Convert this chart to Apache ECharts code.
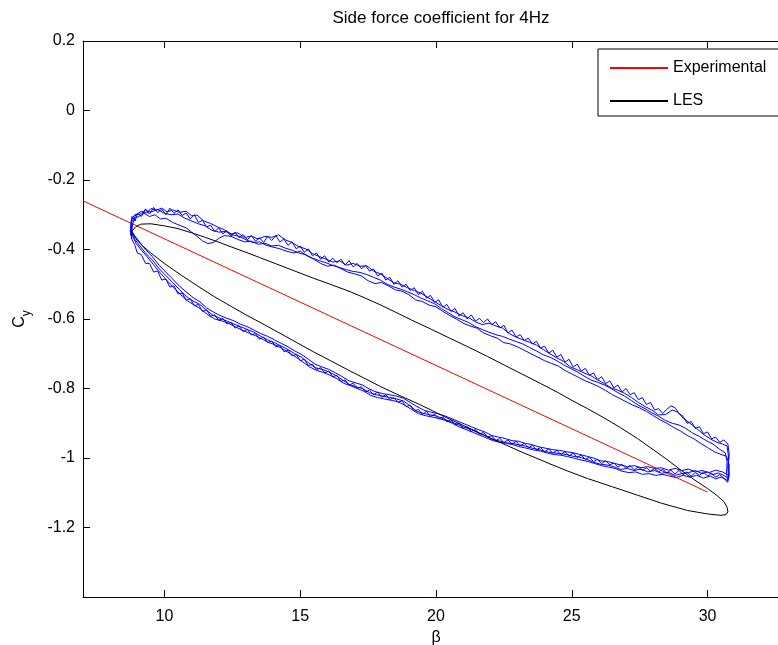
<!DOCTYPE html>
<html><head><meta charset="utf-8">
<script src="https://cdn.jsdelivr.net/npm/echarts@6/dist/echarts.min.js"></script>
<style>html,body{margin:0;padding:0;background:#fff}#c{width:778px;height:645px}</style>
</head><body><div id="c"></div>
<script>
const xTicks = [10, 15, 20, 25, 30];
const yTicks = [0.2, 0, -0.2, -0.4, -0.6, -0.8, -1, -1.2];

const experimental = [[7, -0.26], [30, -1.098]];

const les = [[8.79,-0.348],[8.95,-0.334],[9.13,-0.327],[9.5,-0.326],[10.0,-0.332],[10.5,-0.34],[11.0,-0.352],[11.5,-0.365],[12.0,-0.379],[12.44,-0.392],[13.0,-0.408],[13.5,-0.423],[14.0,-0.438],[14.5,-0.453],[15.0,-0.468],[15.5,-0.483],[16.14,-0.501],[16.86,-0.522],[17.4,-0.54],[17.97,-0.56],[18.5,-0.58],[19.1,-0.603],[19.81,-0.629],[20.5,-0.655],[21.2,-0.681],[21.9,-0.708],[22.5,-0.732],[23.13,-0.757],[23.86,-0.786],[24.5,-0.812],[25.0,-0.834],[25.58,-0.858],[26.2,-0.885],[26.8,-0.913],[27.42,-0.944],[28.0,-0.976],[28.5,-1.004],[29.02,-1.035],[29.5,-1.062],[30.0,-1.088],[30.35,-1.108],[30.61,-1.126],[30.72,-1.142],[30.75,-1.155],[30.68,-1.163],[30.49,-1.165],[30.0,-1.161],[29.26,-1.151],[28.3,-1.13],[27.42,-1.107],[26.5,-1.083],[25.58,-1.059],[24.8,-1.036],[24.2,-1.017],[23.13,-0.982],[22.5,-0.96],[21.8,-0.935],[21.0,-0.906],[20.2,-0.877],[19.4,-0.846],[18.6,-0.818],[17.97,-0.795],[17.4,-0.772],[16.87,-0.751],[16.14,-0.721],[15.5,-0.695],[14.9,-0.669],[14.3,-0.643],[13.67,-0.616],[13.0,-0.588],[12.44,-0.563],[11.8,-0.534],[11.22,-0.505],[10.6,-0.473],[9.99,-0.44],[9.5,-0.41],[9.2,-0.39],[9.01,-0.375],[8.88,-0.36],[8.79,-0.348]];

const measuredCycle1 = [[8.75,-0.36],[8.80,-0.32],[8.95,-0.30],[9.15,-0.29],[9.35,-0.295],[9.5,-0.282],[9.7,-0.287],[9.9,-0.281],[10.1,-0.292],[10.3,-0.286],[10.55,-0.293],[10.8,-0.29],[11.0,-0.303],[11.2,-0.301],[11.45,-0.318],[11.7,-0.325],[11.95,-0.335],[12.2,-0.343],[12.45,-0.355],[12.7,-0.352],[12.95,-0.366],[13.2,-0.361],[13.45,-0.37],[13.7,-0.362],[13.95,-0.365],[14.2,-0.358],[14.45,-0.372],[14.7,-0.38],[14.95,-0.392],[15.2,-0.398],[15.45,-0.412],[15.7,-0.42],[15.95,-0.428],[16.2,-0.436],[16.45,-0.433],[16.7,-0.445],[16.95,-0.44],[17.2,-0.448],[17.45,-0.447],[17.7,-0.462],[17.95,-0.47],[18.2,-0.483],[18.45,-0.496],[18.7,-0.5],[18.95,-0.51],[19.2,-0.518],[19.45,-0.526],[19.7,-0.538],[19.95,-0.55],[20.2,-0.562],[20.45,-0.573],[20.7,-0.58],[20.95,-0.59],[21.2,-0.596],[21.45,-0.608],[21.7,-0.616],[21.95,-0.612],[22.2,-0.62],[22.45,-0.626],[22.7,-0.642],[22.95,-0.652],[23.2,-0.66],[23.45,-0.667],[23.7,-0.675],[23.95,-0.688],[24.2,-0.7],[24.45,-0.712],[24.7,-0.722],[24.95,-0.738],[25.2,-0.746],[25.45,-0.755],[25.7,-0.763],[25.95,-0.775],[26.2,-0.786],[26.45,-0.798],[26.7,-0.805],[26.95,-0.814],[27.2,-0.826],[27.45,-0.84],[27.7,-0.852],[27.95,-0.862],[28.2,-0.876],[28.45,-0.875],[28.7,-0.862],[28.9,-0.868],[29.1,-0.885],[29.35,-0.9],[29.6,-0.915],[29.85,-0.932],[30.1,-0.945],[30.35,-0.955],[30.55,-0.96],[30.72,-0.965],[30.78,-1.0],[30.75,-1.03],[30.78,-1.06],
[30.6,-1.05],[30.4,-1.043],[30.2,-1.048],[30.0,-1.04],[29.8,-1.045],[29.55,-1.036],[29.3,-1.042],[29.05,-1.045],[28.8,-1.05],[28.55,-1.041],[28.3,-1.044],[28.05,-1.036],[27.8,-1.04],[27.55,-1.032],[27.3,-1.036],[27.05,-1.03],[26.8,-1.033],[26.55,-1.025],[26.3,-1.02],[26.05,-1.018],[25.8,-1.012],[25.55,-1.004],[25.3,-0.998],[25.05,-0.995],[24.8,-0.99],[24.55,-0.987],[24.3,-0.985],[24.05,-0.982],[23.8,-0.976],[23.55,-0.972],[23.3,-0.966],[23.05,-0.962],[22.8,-0.958],[22.55,-0.956],[22.3,-0.95],[22.05,-0.946],[21.8,-0.935],[21.55,-0.928],[21.3,-0.918],[21.05,-0.912],[20.8,-0.903],[20.55,-0.896],[20.3,-0.888],[20.05,-0.88],[19.8,-0.876],[19.55,-0.872],[19.3,-0.866],[19.05,-0.85],[18.8,-0.836],[18.55,-0.83],[18.3,-0.826],[18.05,-0.822],[17.8,-0.818],[17.55,-0.812],[17.3,-0.8],[17.05,-0.795],[16.8,-0.788],[16.55,-0.775],[16.3,-0.762],[16.05,-0.752],[15.8,-0.745],[15.55,-0.74],[15.3,-0.726],[15.05,-0.71],[14.8,-0.7],[14.55,-0.688],[14.3,-0.678],[14.05,-0.668],[13.8,-0.66],[13.55,-0.65],[13.3,-0.638],[13.05,-0.63],[12.8,-0.622],[12.55,-0.614],[12.3,-0.606],[12.05,-0.598],[11.8,-0.59],[11.55,-0.575],[11.3,-0.558],[11.05,-0.548],[10.8,-0.535],[10.55,-0.515],[10.3,-0.495],[10.05,-0.475],[9.8,-0.455],[9.55,-0.43],[9.3,-0.41],[9.1,-0.39],[8.9,-0.37],[8.8,-0.35]];

const measuredCycle2 = [[8.78,-0.37],[8.82,-0.33],[8.9,-0.31],[9.05,-0.305],[9.25,-0.296],[9.45,-0.305],[9.65,-0.3],[9.85,-0.312],[10.05,-0.31],[10.3,-0.322],[10.55,-0.33],[10.8,-0.338],[11.0,-0.35],[11.2,-0.362],[11.4,-0.375],[11.6,-0.383],[11.8,-0.38],[12.0,-0.368],[12.2,-0.36],[12.45,-0.362],[12.7,-0.371],[12.95,-0.378],[13.2,-0.376],[13.45,-0.385],[13.7,-0.382],[13.95,-0.39],[14.2,-0.388],[14.45,-0.396],[14.7,-0.402],[14.95,-0.41],[15.2,-0.415],[15.45,-0.425],[15.7,-0.432],[15.95,-0.438],[16.2,-0.446],[16.45,-0.452],[16.7,-0.458],[16.95,-0.463],[17.2,-0.466],[17.45,-0.472],[17.7,-0.48],[17.95,-0.488],[18.2,-0.5],[18.45,-0.508],[18.7,-0.514],[18.95,-0.522],[19.2,-0.53],[19.45,-0.54],[19.7,-0.548],[19.95,-0.556],[20.2,-0.57],[20.45,-0.582],[20.7,-0.594],[20.95,-0.602],[21.2,-0.61],[21.45,-0.622],[21.7,-0.63],[21.95,-0.638],[22.2,-0.645],[22.45,-0.65],[22.7,-0.658],[22.95,-0.665],[23.2,-0.672],[23.45,-0.682],[23.7,-0.692],[23.95,-0.703],[24.2,-0.71],[24.45,-0.72],[24.7,-0.732],[24.95,-0.742],[25.2,-0.752],[25.45,-0.764],[25.7,-0.775],[25.95,-0.782],[26.2,-0.79],[26.45,-0.8],[26.7,-0.812],[26.95,-0.822],[27.2,-0.835],[27.45,-0.848],[27.7,-0.858],[27.95,-0.87],[28.2,-0.88],[28.45,-0.892],[28.7,-0.9],[28.95,-0.905],[29.2,-0.915],[29.45,-0.928],[29.7,-0.938],[29.95,-0.95],[30.2,-0.96],[30.45,-0.975],[30.65,-0.985],[30.72,-1.01],[30.7,-1.045],[30.75,-1.065],
[30.5,-1.055],[30.3,-1.06],[30.1,-1.052],[29.85,-1.058],[29.6,-1.05],[29.35,-1.055],[29.1,-1.05],[28.85,-1.056],[28.6,-1.052],[28.35,-1.047],[28.1,-1.05],[27.85,-1.045],[27.6,-1.047],[27.35,-1.04],[27.1,-1.042],[26.85,-1.038],[26.6,-1.03],[26.35,-1.026],[26.1,-1.022],[25.85,-1.016],[25.6,-1.01],[25.35,-1.006],[25.1,-1.001],[24.85,-0.996],[24.6,-0.992],[24.35,-0.99],[24.1,-0.986],[23.85,-0.98],[23.6,-0.977],[23.35,-0.972],[23.1,-0.968],[22.85,-0.962],[22.6,-0.958],[22.35,-0.955],[22.1,-0.95],[21.85,-0.942],[21.6,-0.934],[21.35,-0.926],[21.1,-0.918],[20.85,-0.91],[20.6,-0.9],[20.35,-0.892],[20.1,-0.886],[19.85,-0.882],[19.6,-0.878],[19.35,-0.872],[19.1,-0.86],[18.85,-0.848],[18.6,-0.838],[18.35,-0.834],[18.1,-0.83],[17.85,-0.826],[17.6,-0.82],[17.35,-0.808],[17.1,-0.8],[16.85,-0.792],[16.6,-0.785],[16.35,-0.772],[16.1,-0.762],[15.85,-0.754],[15.6,-0.748],[15.35,-0.738],[15.1,-0.724],[14.85,-0.71],[14.6,-0.698],[14.35,-0.686],[14.1,-0.675],[13.85,-0.668],[13.6,-0.658],[13.35,-0.648],[13.1,-0.64],[12.85,-0.632],[12.6,-0.622],[12.35,-0.612],[12.1,-0.605],[11.85,-0.6],[11.6,-0.588],[11.35,-0.572],[11.1,-0.56],[10.85,-0.548],[10.6,-0.53],[10.35,-0.51],[10.1,-0.49],[9.85,-0.468],[9.6,-0.444],[9.35,-0.42],[9.15,-0.402],[8.95,-0.382],[8.82,-0.36],[8.76,-0.345]];

const measuredCycle3 = [[8.74,-0.35],[8.78,-0.315],[8.9,-0.3],[9.1,-0.298],[9.3,-0.288],[9.5,-0.292],[9.75,-0.285],[10.0,-0.296],[10.25,-0.3],[10.5,-0.298],[10.75,-0.31],[11.0,-0.318],[11.25,-0.326],[11.5,-0.332],[11.75,-0.345],[12.0,-0.35],[12.25,-0.348],[12.5,-0.358],[12.75,-0.362],[13.0,-0.372],[13.25,-0.38],[13.5,-0.378],[13.75,-0.388],[14.0,-0.393],[14.25,-0.398],[14.5,-0.405],[14.75,-0.41],[15.0,-0.405],[15.25,-0.418],[15.5,-0.428],[15.75,-0.44],[16.0,-0.448],[16.25,-0.445],[16.5,-0.455],[16.75,-0.465],[17.0,-0.47],[17.25,-0.476],[17.5,-0.49],[17.75,-0.498],[18.0,-0.495],[18.25,-0.505],[18.5,-0.516],[18.75,-0.52],[19.0,-0.53],[19.25,-0.545],[19.5,-0.55],[19.75,-0.56],[20.0,-0.565],[20.25,-0.578],[20.5,-0.59],[20.75,-0.6],[21.0,-0.612],[21.25,-0.62],[21.5,-0.626],[21.75,-0.64],[22.0,-0.648],[22.25,-0.655],[22.5,-0.668],[22.75,-0.672],[23.0,-0.68],[23.25,-0.69],[23.5,-0.7],[23.75,-0.71],[24.0,-0.72],[24.25,-0.728],[24.5,-0.735],[24.75,-0.748],[25.0,-0.758],[25.25,-0.768],[25.5,-0.778],[25.75,-0.786],[26.0,-0.795],[26.25,-0.806],[26.5,-0.818],[26.75,-0.828],[27.0,-0.838],[27.25,-0.848],[27.5,-0.856],[27.75,-0.866],[28.0,-0.878],[28.25,-0.89],[28.5,-0.9],[28.75,-0.912],[29.0,-0.922],[29.25,-0.935],[29.5,-0.945],[29.75,-0.958],[30.0,-0.97],[30.25,-0.982],[30.5,-0.99],[30.7,-0.995],[30.8,-1.02],[30.78,-1.05],
[30.55,-1.04],[30.3,-1.035],[30.05,-1.042],[29.8,-1.036],[29.55,-1.04],[29.3,-1.032],[29.05,-1.036],[28.8,-1.03],[28.55,-1.035],[28.3,-1.028],[28.05,-1.03],[27.8,-1.025],[27.55,-1.028],[27.3,-1.022],[27.05,-1.025],[26.8,-1.02],[26.55,-1.015],[26.3,-1.01],[26.05,-1.008],[25.8,-1.0],[25.55,-0.995],[25.3,-0.99],[25.05,-0.985],[24.8,-0.982],[24.55,-0.978],[24.3,-0.976],[24.05,-0.972],[23.8,-0.968],[23.55,-0.962],[23.3,-0.958],[23.05,-0.952],[22.8,-0.95],[22.55,-0.944],[22.3,-0.94],[22.05,-0.935],[21.8,-0.925],[21.55,-0.918],[21.3,-0.91],[21.05,-0.902],[20.8,-0.894],[20.55,-0.886],[20.3,-0.878],[20.05,-0.872],[19.8,-0.868],[19.55,-0.862],[19.3,-0.852],[19.05,-0.84],[18.8,-0.828],[18.55,-0.822],[18.3,-0.818],[18.05,-0.815],[17.8,-0.81],[17.55,-0.802],[17.3,-0.79],[17.05,-0.784],[16.8,-0.778],[16.55,-0.766],[16.3,-0.755],[16.05,-0.745],[15.8,-0.738],[15.55,-0.73],[15.3,-0.716],[15.05,-0.702],[14.8,-0.692],[14.55,-0.68],[14.3,-0.67],[14.05,-0.66],[13.8,-0.65],[13.55,-0.642],[13.3,-0.632],[13.05,-0.622],[12.8,-0.615],[12.55,-0.605],[12.3,-0.598],[12.05,-0.59],[11.8,-0.58],[11.55,-0.568],[11.3,-0.55],[11.05,-0.538],[10.8,-0.522],[10.55,-0.505],[10.3,-0.485],[10.05,-0.465],[9.8,-0.445],[9.55,-0.42],[9.3,-0.4],[9.1,-0.38],[8.9,-0.36],[8.78,-0.345]];

const measuredCycle4 = [[8.76,-0.34],[8.8,-0.305],[8.92,-0.318],[9.0,-0.296],[9.15,-0.305],[9.3,-0.283],[9.45,-0.298],[9.6,-0.279],[9.75,-0.294],[9.9,-0.284],[10.05,-0.3],[10.2,-0.281],[10.35,-0.296],[10.5,-0.286],[10.65,-0.302],[10.8,-0.295],[10.95,-0.312],[11.1,-0.3],[11.25,-0.322],[11.4,-0.316],[11.55,-0.335],[11.7,-0.33],[11.85,-0.348],[12.0,-0.338],[12.15,-0.355],[12.3,-0.346],[12.45,-0.362],[12.6,-0.35],[12.75,-0.366],[12.9,-0.357],[13.05,-0.372],[13.2,-0.36],[13.35,-0.376],[13.5,-0.366],[13.65,-0.38],[13.8,-0.362],[13.95,-0.374],[14.1,-0.36],[14.25,-0.378],[14.4,-0.37],[14.55,-0.388],[14.7,-0.378],[14.85,-0.398],[15.0,-0.39],[15.15,-0.408],[15.3,-0.398],[15.45,-0.418],[15.6,-0.41],[15.75,-0.428],[15.9,-0.418],[16.05,-0.436],[16.2,-0.425],[16.35,-0.438],[16.5,-0.428],[16.65,-0.445],[16.8,-0.432],[16.95,-0.45],[17.1,-0.44],[17.25,-0.455],[17.4,-0.446],[17.55,-0.462],[17.7,-0.456],[17.85,-0.476],[18.0,-0.468],[18.15,-0.488],[18.3,-0.48],[18.45,-0.5],[18.6,-0.49],[18.75,-0.508],[18.9,-0.5],[19.05,-0.518],[19.2,-0.51],[19.35,-0.53],[19.5,-0.52],[19.65,-0.54],[19.8,-0.532],[19.95,-0.552],[20.1,-0.545],[20.25,-0.566],[20.4,-0.558],[20.55,-0.578],[20.7,-0.57],[20.85,-0.592],[21.0,-0.582],[21.15,-0.6],[21.3,-0.588],[21.45,-0.606],[21.6,-0.598],[21.75,-0.61],[21.9,-0.6],[22.05,-0.616],[22.2,-0.608],[22.35,-0.626],[22.5,-0.618],[22.65,-0.64],[22.8,-0.632],[22.95,-0.652],[23.1,-0.645],[23.25,-0.662],[23.4,-0.655],[23.55,-0.672],[23.7,-0.664],[23.85,-0.684],[24.0,-0.678],[24.15,-0.698],[24.3,-0.69],[24.45,-0.71],[24.6,-0.702],[24.75,-0.724],[24.9,-0.716],[25.05,-0.738],[25.2,-0.73],[25.35,-0.75],[25.5,-0.742],[25.65,-0.762],[25.8,-0.755],[25.95,-0.775],[26.1,-0.766],[26.25,-0.786],[26.4,-0.778],[26.55,-0.798],[26.7,-0.79],[26.85,-0.81],[27.0,-0.8],[27.15,-0.818],[27.3,-0.812],[27.45,-0.832],[27.6,-0.826],[27.75,-0.846],[27.9,-0.84],[28.05,-0.862],[28.2,-0.858],[28.35,-0.872],[28.5,-0.86],[28.65,-0.85],[28.8,-0.855],[28.95,-0.872],[29.1,-0.88],[29.25,-0.9],[29.4,-0.895],[29.55,-0.915],[29.7,-0.91],[29.85,-0.93],[30.0,-0.925],[30.15,-0.945],[30.3,-0.94],[30.45,-0.955],[30.6,-0.948],[30.75,-0.96],[30.8,-0.99],[30.76,-1.02],[30.8,-1.05],[30.74,-1.07],
[30.6,-1.058],[30.45,-1.048],[30.3,-1.055],[30.15,-1.044],[30.0,-1.052],[29.85,-1.04],[29.7,-1.05],[29.55,-1.042],[29.4,-1.052],[29.25,-1.04],[29.1,-1.048],[28.95,-1.036],[28.8,-1.046],[28.65,-1.035],[28.5,-1.044],[28.35,-1.032],[28.2,-1.04],[28.05,-1.03],[27.9,-1.038],[27.75,-1.028],[27.6,-1.036],[27.45,-1.026],[27.3,-1.034],[27.15,-1.022],[27.0,-1.03],[26.85,-1.018],[26.7,-1.026],[26.55,-1.014],[26.4,-1.02],[26.25,-1.008],[26.1,-1.016],[25.95,-1.004],[25.8,-1.01],[25.65,-0.998],[25.5,-1.004],[25.35,-0.992],[25.2,-0.998],[25.05,-0.986],[24.9,-0.994],[24.75,-0.982],[24.6,-0.99],[24.45,-0.978],[24.3,-0.986],[24.15,-0.974],[24.0,-0.982],[23.85,-0.97],[23.7,-0.976],[23.55,-0.964],[23.4,-0.97],[23.25,-0.958],[23.1,-0.965],[22.95,-0.952],[22.8,-0.96],[22.65,-0.948],[22.5,-0.955],[22.35,-0.944],[22.2,-0.95],[22.05,-0.936],[21.9,-0.94],[21.75,-0.926],[21.6,-0.932],[21.45,-0.918],[21.3,-0.924],[21.15,-0.91],[21.0,-0.915],[20.85,-0.9],[20.7,-0.905],[20.55,-0.89],[20.4,-0.896],[20.25,-0.882],[20.1,-0.888],[19.95,-0.874],[19.8,-0.88],[19.65,-0.866],[19.5,-0.874],[19.35,-0.86],[19.2,-0.866],[19.05,-0.848],[18.9,-0.852],[18.75,-0.835],[18.6,-0.84],[18.45,-0.826],[18.3,-0.832],[18.15,-0.818],[18.0,-0.825],[17.85,-0.81],[17.7,-0.818],[17.55,-0.805],[17.4,-0.81],[17.25,-0.795],[17.1,-0.8],[16.95,-0.785],[16.8,-0.79],[16.65,-0.775],[16.5,-0.78],[16.35,-0.762],[16.2,-0.766],[16.05,-0.75],[15.9,-0.755],[15.75,-0.74],[15.6,-0.746],[15.45,-0.73],[15.3,-0.734],[15.15,-0.716],[15.0,-0.72],[14.85,-0.702],[14.7,-0.706],[14.55,-0.69],[14.4,-0.694],[14.25,-0.676],[14.1,-0.68],[13.95,-0.664],[13.8,-0.668],[13.65,-0.652],[13.5,-0.658],[13.35,-0.642],[13.2,-0.646],[13.05,-0.63],[12.9,-0.636],[12.75,-0.62],[12.6,-0.626],[12.45,-0.61],[12.3,-0.614],[12.15,-0.598],[12.0,-0.604],[11.85,-0.588],[11.7,-0.592],[11.55,-0.574],[11.4,-0.578],[11.25,-0.558],[11.1,-0.562],[10.95,-0.542],[10.8,-0.546],[10.65,-0.525],[10.5,-0.528],[10.35,-0.505],[10.2,-0.508],[10.05,-0.485],[9.9,-0.488],[9.75,-0.462],[9.6,-0.465],[9.45,-0.44],[9.3,-0.44],[9.15,-0.415],[9.0,-0.41],[8.9,-0.385],[8.8,-0.372],[8.76,-0.34]];

const FONT = 'Liberation Sans, Arial, Helvetica, sans-serif';
const chart = echarts.init(document.getElementById('c'), null, {renderer: 'canvas'});

function lineSeries(name, data, color, z) {
  return {
    name: name, type: 'line', data: data, symbol: 'none', showSymbol: false,
    smooth: false, clip: true, z: z, silent: true,
    lineStyle: {color: color, width: 1}, itemStyle: {color: color}
  };
}

const option = {
  animation: false,
  backgroundColor: '#ffffff',
  title: {
    text: 'Side force coefficient for 4Hz',
    left: 436, top: 5, textAlign: 'center',
    textStyle: {fontFamily: FONT, fontSize: 17, fontWeight: 'normal', color: '#000'}
  },
  legend: {
    data: ['Experimental', 'LES'],
    orient: 'vertical',
    left: 598, top: 49,
    padding: [11, 30, 7, 11],
    itemWidth: 58, itemHeight: 16, itemGap: 17,
    itemStyle: {opacity: 0},
    backgroundColor: '#fff', borderColor: '#000', borderWidth: 1, borderRadius: 0,
    textStyle: {fontFamily: FONT, fontSize: 16, color: '#000'},
    selectedMode: false
  },
  grid: {left: 83, top: 41, width: 706, height: 556, containLabel: false, outerBoundsMode: 'none'},
  xAxis: [{
    type: 'value', min: 7, max: 33, position: 'bottom',
    name: 'β', nameLocation: 'middle', nameGap: 28,
    nameTextStyle: {fontFamily: FONT, fontSize: 16, color: '#000'},
    axisLine: {show: true, onZero: false, lineStyle: {color: '#000', width: 1}},
    axisTick: {show: true, inside: true, length: 7, customValues: xTicks, lineStyle: {color: '#000'}},
    axisLabel: {show: true, customValues: xTicks, margin: 12, fontFamily: FONT, fontSize: 16, color: '#000'},
    splitLine: {show: false}
  }, {
    type: 'value', min: 7, max: 33, position: 'top',
    axisLine: {show: true, onZero: false, lineStyle: {color: '#000', width: 1}},
    axisTick: {show: true, inside: true, length: 7, customValues: xTicks, lineStyle: {color: '#000'}},
    axisLabel: {show: false},
    splitLine: {show: false}
  }],
  yAxis: [{
    type: 'value', min: -1.4, max: 0.2, position: 'left',
    name: '{c|C}{s|y}', nameLocation: 'middle', nameGap: 50, nameRotate: 90,
    nameTextStyle: {
      fontFamily: FONT, color: '#000',
      rich: {
        c: {fontFamily: FONT, fontSize: 16, color: '#000', lineHeight: 26, verticalAlign: 'middle'},
        s: {fontFamily: FONT, fontSize: 12, color: '#000', lineHeight: 26, verticalAlign: 'bottom'}
      }
    },
    axisLine: {show: true, onZero: false, lineStyle: {color: '#000', width: 1}},
    axisTick: {show: true, inside: true, length: 7, customValues: yTicks, lineStyle: {color: '#000'}},
    axisLabel: {show: true, customValues: yTicks, margin: 8, fontFamily: FONT, fontSize: 16, color: '#000'},
    splitLine: {show: false}
  }],
  series: [
    lineSeries('Experimental', experimental, '#ff0000', 2),
    lineSeries('Cycle 1', measuredCycle1, '#0000ff', 3),
    lineSeries('Cycle 2', measuredCycle2, '#0000ff', 3),
    lineSeries('Cycle 3', measuredCycle3, '#0000ff', 3),
    lineSeries('Cycle 4', measuredCycle4, '#0000ff', 3),
    lineSeries('LES', les, '#000000', 4)
  ]
};
chart.setOption(option);
</script>
</body></html>
